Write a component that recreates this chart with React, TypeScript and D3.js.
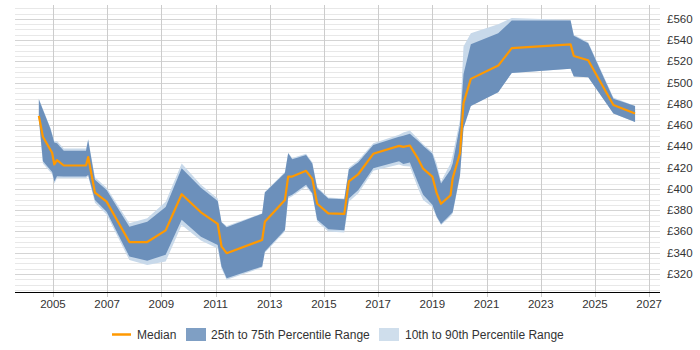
import { useRef, useEffect } from 'react'
import * as d3 from 'd3'

// sample dates (decimal years) and percentile values
const years = [
  2004.48, 2004.63, 2004.9, 2004.97, 2005.05, 2005.15, 2005.4, 2006.22, 2006.3, 2006.55,
  2006.98, 2007.82, 2008.48, 2009.16, 2009.75, 2010.46, 2011.08, 2011.22, 2011.41, 2012.72,
  2012.82, 2013.56, 2013.68, 2013.83, 2014.34, 2014.57, 2014.75, 2015.16, 2015.75, 2015.92,
  2016.27, 2016.82, 2017.77, 2017.93, 2018.17, 2018.48, 2018.66, 2019.0, 2019.16, 2019.32,
  2019.67, 2019.75, 2020.02, 2020.15, 2020.42, 2021.43, 2021.93, 2024.1, 2024.22, 2024.75,
  2025.68, 2026.48,
]
const median = [
  468.7, 449, 437, 434, 423, 427, 422, 422, 430, 396.5,
  388, 350, 350, 361, 395, 378, 367, 346, 339.5, 352,
  369, 389.6, 411.6, 411.6, 417, 409.4, 386, 377, 376.5, 407,
  414, 433, 440.5, 439.5, 440.8, 428, 419, 411.6, 396, 386,
  394, 410, 433.6, 480.7, 503.5, 516, 532.4, 536, 525, 521,
  479, 471,
]
const p25 = [
  466, 426, 418, 416, 407, 412, 411.6, 411.6, 413, 389.6,
  378.6, 336.3, 332.5, 338, 371, 355, 347.3, 327, 316, 327,
  341, 361.4, 392.8, 394.4, 403.8, 396, 371, 362, 361, 391,
  399, 419.5, 426, 423.5, 424.8, 405, 394.4, 385, 374, 367,
  376, 378, 413, 457, 478, 491, 509, 513, 505.7, 505,
  471, 463,
]
const p75 = [
  484, 474.4, 457, 451, 443.6, 443, 436, 436, 446, 408.5,
  399, 364.5, 369, 383, 419.5, 401, 388.5, 368.6, 364, 376.6,
  396.5, 415, 433.6, 428, 432, 424, 400.7, 391, 390.3, 418.5,
  425, 441.4, 449, 450, 451.8, 445, 440.5, 433, 420, 405,
  418, 424, 460, 508, 536, 546.5, 558.4, 558.4, 544, 537,
  484.7, 478,
]
const p10 = [
  465, 424, 416, 414, 405, 410, 410, 410, 412, 387,
  376, 333, 328.5, 331.6, 366, 351.4, 344, 325, 314.5, 326,
  340, 360, 391, 393, 402, 395, 369, 360, 359, 388,
  396, 417, 423, 421.5, 421, 400, 389.6, 383, 373, 366,
  374, 377, 411, 460, 478, 491, 509, 513, 505.7, 505,
  471, 463,
]
const p90 = [
  485, 475, 458, 452, 445, 445, 438, 438, 447, 411,
  401, 367.7, 372.4, 388, 424, 404, 391, 369, 365, 377,
  397, 416, 434, 429, 433, 425, 402, 392, 391, 420,
  427, 443, 451, 453, 455, 447, 442, 435, 424, 407,
  424, 432, 465, 534, 546.5, 555, 560.7, 559, 545, 538,
  486, 478,
]
const xTicks = [2005, 2007, 2009, 2011, 2013, 2015, 2017, 2019, 2021, 2023, 2025, 2027]
const yTicks = [320, 340, 360, 380, 400, 420, 440, 460, 480, 500, 520, 540, 560]
const legendItems = ['Median', '25th to 75th Percentile Range', '10th to 90th Percentile Range']

function App() {
  const ref = useRef<SVGSVGElement>(null)

  useEffect(() => {
    const svg = d3.select(ref.current)
    svg.selectAll('*').remove()

    const left = 15, right = 660, top = 5, bottom = 292
    const x = d3.scaleLinear().domain([2003.6, 2027.4]).range([left, right])
    const y = d3.scaleLinear().domain([303, 573]).range([bottom, top])
    const font = '"Liberation Sans", Arial, sans-serif'

    const grid = svg.append('g')
    // minor horizontal grid every 5
    grid.selectAll('line.minor')
      .data(d3.range(305, 573, 5).filter(v => v % 20 !== 0))
      .enter().append('line')
      .attr('x1', left).attr('x2', right)
      .attr('y1', d => Math.round(y(d)) + 0.5).attr('y2', d => Math.round(y(d)) + 0.5)
      .attr('stroke', '#e8e8e8')
    grid.selectAll('line.major')
      .data(yTicks)
      .enter().append('line')
      .attr('x1', left).attr('x2', right)
      .attr('y1', d => Math.round(y(d)) + 0.5).attr('y2', d => Math.round(y(d)) + 0.5)
      .attr('stroke', '#d4d4d4')
    grid.selectAll('line.vert')
      .data(xTicks)
      .enter().append('line')
      .attr('x1', d => Math.round(x(d)) + 0.5).attr('x2', d => Math.round(x(d)) + 0.5)
      .attr('y1', top).attr('y2', bottom + 5)
      .attr('stroke', '#cccccc')

    const idx = d3.range(years.length)
    const outer = d3.area<number>()
      .x(i => x(years[i])).y0(i => y(p10[i])).y1(i => y(p90[i]))
    const inner = d3.area<number>()
      .x(i => x(years[i])).y0(i => y(p25[i])).y1(i => y(p75[i]))
    const line = d3.line<number>()
      .x(i => x(years[i])).y(i => y(median[i]))

    svg.append('path').attr('d', outer(idx)).attr('fill', '#c8d9ea')
    svg.append('path').attr('d', inner(idx)).attr('fill', '#6c90bb')
    svg.append('path').attr('d', line(idx)).attr('fill', 'none')
      .attr('stroke', '#ff9900').attr('stroke-width', 2.2).attr('stroke-linejoin', 'round')

    svg.append('line')
      .attr('x1', left).attr('x2', right)
      .attr('y1', bottom + 0.5).attr('y2', bottom + 0.5)
      .attr('stroke', '#000')

    svg.selectAll('text.xt')
      .data(xTicks)
      .enter().append('text')
      .attr('x', d => x(d)).attr('y', 308)
      .attr('text-anchor', 'middle')
      .style('font', `11.5px ${font}`).attr('fill', '#333')
      .text(d => String(d))

    svg.selectAll('text.yt')
      .data(yTicks)
      .enter().append('text')
      .attr('x', 667).attr('y', d => y(d) + 4)
      .style('font', `11.5px ${font}`).attr('fill', '#333')
      .text(d => `£${d}`)

    // legend
    const lg = svg.append('g').style('font', `12px ${font}`)
    lg.append('line').attr('x1', 112).attr('x2', 131).attr('y1', 334.5).attr('y2', 334.5)
      .attr('stroke', '#ff9900').attr('stroke-width', 2.5)
    lg.append('text').attr('x', 137).attr('y', 339).attr('fill', '#333').text(legendItems[0])
    lg.append('rect').attr('x', 186).attr('y', 328).attr('width', 20).attr('height', 13).attr('fill', '#7f9fc4')
    lg.append('text').attr('x', 211).attr('y', 339).attr('fill', '#333').text(legendItems[1])
    lg.append('rect').attr('x', 379).attr('y', 328).attr('width', 20).attr('height', 13).attr('fill', '#cfdeec')
    lg.append('text').attr('x', 405).attr('y', 339).attr('fill', '#333').text(legendItems[2])
  }, [])

  return (
    <svg ref={ref} width={700} height={350}
      style={{ position: 'absolute', left: 0, top: 0, display: 'block', background: '#fff' }} />
  )
}

export default App
